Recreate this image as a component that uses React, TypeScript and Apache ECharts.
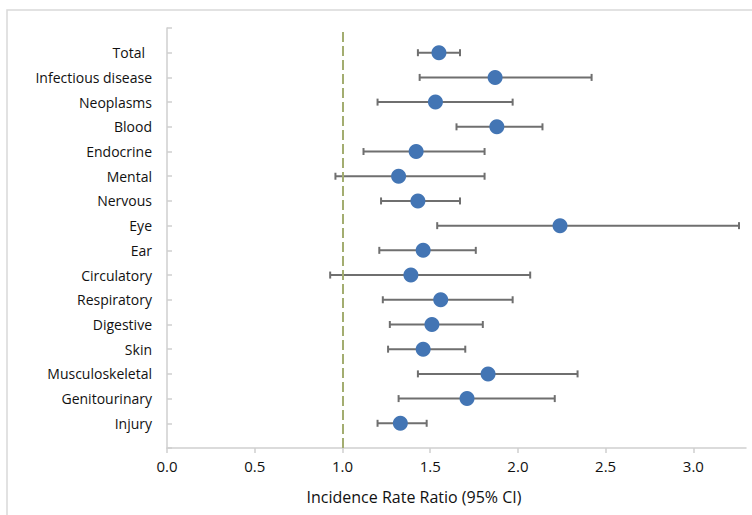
import React, { useEffect, useRef } from "react";
import * as echarts from "echarts";

// Categories from top to bottom
const categories = [
  "Total",
  "Infectious disease",
  "Neoplasms",
  "Blood",
  "Endocrine",
  "Mental",
  "Nervous",
  "Eye",
  "Ear",
  "Circulatory",
  "Respiratory",
  "Digestive",
  "Skin",
  "Musculoskeletal",
  "Genitourinary",
  "Injury",
];
const irr = [1.55, 1.87, 1.53, 1.88, 1.42, 1.32, 1.43, 2.24, 1.46, 1.39, 1.56, 1.51, 1.46, 1.83, 1.71, 1.33];
const ciLow = [1.43, 1.44, 1.2, 1.65, 1.12, 0.96, 1.22, 1.54, 1.21, 0.93, 1.23, 1.27, 1.26, 1.43, 1.32, 1.2];
const ciHigh = [1.67, 2.42, 1.97, 2.14, 1.81, 1.81, 1.67, 3.26, 1.76, 2.07, 1.97, 1.8, 1.7, 2.34, 2.21, 1.48];
const xTicks = [0, 0.5, 1, 1.5, 2, 2.5, 3];
const referenceLine = 1;
const axisTitle = "Incidence Rate Ratio (95% CI)";

export default function App() {
  const ref = useRef<HTMLDivElement>(null);
  useEffect(() => {
    if (!ref.current) return;
    const chart = echarts.init(ref.current, null, { renderer: "svg" });
    const n = categories.length;
    const rowY = (i: number) => n - i; // Total -> 16, Injury -> 1
    const font = "'Open Sans', sans-serif";
    const textColor = "#111111";
    const axisColor = "#cfcfcf";

    const errData = categories.map((_, i) => [ciLow[i], ciHigh[i], rowY(i)]);
    const ptData = categories.map((_, i) => [irr[i], rowY(i)]);

    chart.setOption({
      animation: false,
      backgroundColor: "#ffffff",
      grid: { left: 167, right: 6, top: 28, bottom: 67, containLabel: false },
      xAxis: {
        type: "value",
        min: 0,
        max: 3.3,
        interval: 0.5,
        splitLine: { show: false },
        axisLine: { show: true, lineStyle: { color: axisColor, width: 1.5 } },
        axisTick: { show: true, length: 5, lineStyle: { color: axisColor, width: 1.5 }, customValues: xTicks },
        axisLabel: {
          customValues: xTicks,
          formatter: (v: number) => v.toFixed(1),
          color: textColor,
          fontFamily: font,
          fontSize: 15,
          margin: 10,
        },
      },
      yAxis: {
        type: "value",
        min: 0,
        max: n + 1,
        interval: 1,
        splitLine: { show: false },
        axisLine: { show: true, lineStyle: { color: axisColor, width: 1.5 } },
        axisTick: { show: true, inside: true, length: 5, lineStyle: { color: axisColor, width: 1.5 } },
        axisLabel: {
          color: textColor,
          fontFamily: font,
          fontSize: 14,
          margin: 15,
          formatter: (v: number) => {
            const i = n - Math.round(v);
            if (i < 0 || i >= n) return "";
            if (i === 0) return "{t|" + categories[i] + "}";
            return categories[i];
          },
          rich: {
            t: { color: textColor, fontFamily: font, fontSize: 14, padding: [0, 7, 0, 0] },
          },
        },
      },
      graphic: [
        {
          type: "rect",
          shape: { x: 7, y: 10, width: 780, height: 540 },
          style: { fill: "none", stroke: "#d9d9d9", lineWidth: 1.5 },
          silent: true,
          z: -1,
        },
        {
          type: "text",
          x: 414,
          y: 497,
          style: {
            text: axisTitle,
            fill: textColor,
            font: "16px 'Open Sans', sans-serif",
            textAlign: "center",
            textVerticalAlign: "middle",
          },
        },
      ],
      series: [
        {
          type: "custom",
          name: "CI",
          data: errData,
          encode: { x: [0, 1], y: 2 },
          z: 2,
          renderItem: (params: any, api: any) => {
            const lo = api.coord([api.value(0), api.value(2)]);
            const hi = api.coord([api.value(1), api.value(2)]);
            const cap = 3.5;
            const style = { stroke: "#6f6f6f", lineWidth: 2 };
            return {
              type: "group",
              children: [
                { type: "line", shape: { x1: lo[0], y1: lo[1], x2: hi[0], y2: hi[1] }, style },
                { type: "line", shape: { x1: lo[0], y1: lo[1] - cap, x2: lo[0], y2: lo[1] + cap }, style },
                { type: "line", shape: { x1: hi[0], y1: hi[1] - cap, x2: hi[0], y2: hi[1] + cap }, style },
              ],
            };
          },
        },
        {
          type: "scatter",
          name: "IRR",
          data: ptData,
          symbol: "circle",
          symbolSize: 15,
          z: 3,
          itemStyle: { color: "#4375b4", opacity: 1 },
          markLine: {
            silent: true,
            symbol: "none",
            label: { show: false },
            lineStyle: { color: "#a3ad70", width: 2, type: [10, 4] },
            data: [{ xAxis: referenceLine }],
          },
        },
      ],
    });
    return () => chart.dispose();
  }, []);
  return <div ref={ref} style={{ position: "fixed", left: 0, top: 0, width: 752, height: 515 }} />;
}
